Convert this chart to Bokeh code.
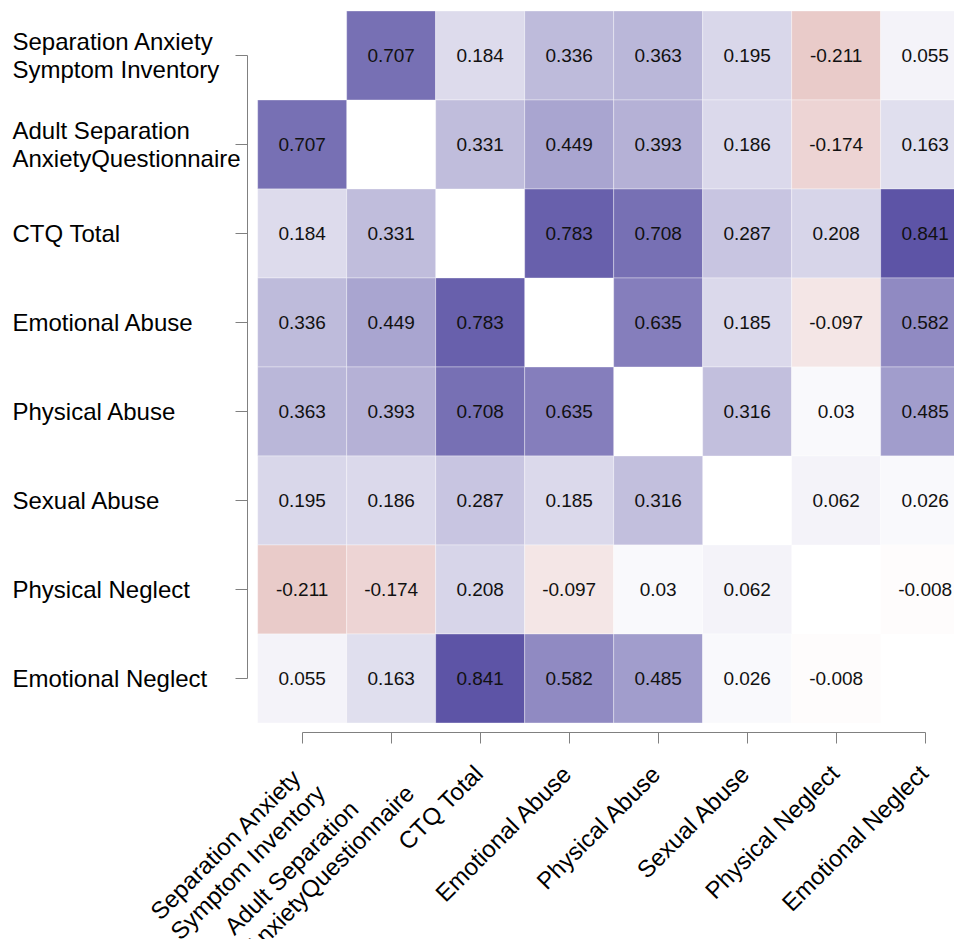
import math
from bokeh.plotting import figure
from bokeh.layouts import column, row
from bokeh.models import ColumnDataSource, Range1d, LinearColorMapper, FixedTicker, LinearAxis
from bokeh.core.properties import value
from bokeh.embed import file_html
from bokeh.resources import INLINE

# ---- data ----
variables = [
    "Separation Anxiety\nSymptom Inventory",
    "Adult Separation\nAnxietyQuestionnaire",
    "CTQ Total",
    "Emotional Abuse",
    "Physical Abuse",
    "Sexual Abuse",
    "Physical Neglect",
    "Emotional Neglect",
]
row_sasi = [None, 0.707, 0.184, 0.336, 0.363, 0.195, -0.211, 0.055]
row_asaq = [0.707, None, 0.331, 0.449, 0.393, 0.186, -0.174, 0.163]
row_ctq = [0.184, 0.331, None, 0.783, 0.708, 0.287, 0.208, 0.841]
row_ea = [0.336, 0.449, 0.783, None, 0.635, 0.185, -0.097, 0.582]
row_pa = [0.363, 0.393, 0.708, 0.635, None, 0.316, 0.03, 0.485]
row_sa = [0.195, 0.186, 0.287, 0.185, 0.316, None, 0.062, 0.026]
row_pn = [-0.211, -0.174, 0.208, -0.097, 0.03, 0.062, None, -0.008]
row_en = [0.055, 0.163, 0.841, 0.582, 0.485, 0.026, -0.008, None]
matrix = [row_sasi, row_asaq, row_ctq, row_ea, row_pa, row_sa, row_pn, row_en]

# ---- palette: red (negative) -> white -> purple (positive) ----
NEG = (150, 5, 0)
POS = (64, 54, 150)
N = 201
palette = []
for k in range(N):
    t = -1 + 2 * k / (N - 1)
    base = POS if t >= 0 else NEG
    a = abs(t)
    c = [round(255 * (1 - a) + base[j] * a) for j in range(3)]
    palette.append("#%02x%02x%02x" % tuple(c))
mapper = LinearColorMapper(palette=palette, low=-1, high=1)

n = len(variables)
xs, ys, vals, labels = [], [], [], []
for i, r in enumerate(matrix):
    for j, v in enumerate(r):
        if v is None:
            continue
        xs.append(j)
        ys.append(n - 1 - i)
        vals.append(v)
        labels.append(f"{v:g}")
src = ColumnDataSource(dict(x=xs, y=ys, v=vals, label=labels))

FONT = "Liberation Sans"
AXIS_GREY = "#808080"

# ---- layout geometry (pixels) ----
CELL = 89.0
LEFT_W = 248          # width of the y-label strip
TOP_PAD = 10
MAIN_H = 732          # height of the top row
BOTTOM_H = 207
MAIN_W = 954 - LEFT_W
X0 = -0.603           # data value at left edge of the heat-map frame
Y0 = -0.607           # data value at bottom edge of the heat-map frame
y_range_top = Range1d(Y0, Y0 + (MAIN_H - TOP_PAD) / CELL)


def bare(fig):
    fig.outline_line_color = None
    fig.grid.visible = False
    fig.background_fill_color = "white"
    fig.border_fill_color = "white"
    fig.min_border_left = fig.min_border_right = 0
    fig.min_border_bottom = 0
    return fig


def style_axis(ax, tick_len):
    ax.ticker = FixedTicker(ticks=list(range(n)))
    ax.bounds = (0, n - 1)
    ax.major_label_text_font_size = "0px"
    ax.major_label_text_color = None
    ax.major_label_standoff = 0
    ax.major_tick_in = tick_len
    ax.major_tick_out = 0
    ax.minor_tick_line_color = None
    ax.axis_line_color = AXIS_GREY
    ax.major_tick_line_color = AXIS_GREY


# main heat map
p = bare(figure(width=MAIN_W, height=MAIN_H, output_backend="svg", toolbar_location=None,
                x_axis_location=None, y_axis_location=None,
                x_range=Range1d(X0, X0 + MAIN_W / CELL), y_range=y_range_top))
p.min_border_top = TOP_PAD
p.rect(x="x", y="y", width=1, height=1, source=src,
       fill_color={"field": "v", "transform": mapper},
       line_color="white", line_alpha=0.35, line_width=1)
p.text(x="x", y="y", text="label", source=src, text_align="center", text_baseline="middle",
       text_font=value(FONT), text_font_size="19px", text_color="#111111")

# left strip: y labels + y axis (ticks pointing left)
pl = bare(figure(width=LEFT_W, height=MAIN_H, output_backend="svg", toolbar_location=None,
                 x_axis_location=None, y_axis_location=None,
                 x_range=Range1d(0, LEFT_W - 1), y_range=y_range_top))
pl.min_border_top = TOP_PAD
pl.min_border_right = 1
yax = LinearAxis()
style_axis(yax, 12)
pl.add_layout(yax, "right")
ylab = ColumnDataSource(dict(x=[12] * n, y=[n - 1 - i for i in range(n)], t=variables))
pl.text(x="x", y="y", text="t", source=ylab, text_align="left", text_baseline="middle",
        text_font=value(FONT), text_font_size="24px", text_color="black", text_line_height=1.05)

# bottom strip: x axis (ticks pointing down) + rotated x labels
xb0 = X0 - LEFT_W / CELL
pb = bare(figure(width=LEFT_W + MAIN_W, height=BOTTOM_H, output_backend="svg", toolbar_location=None,
                 x_axis_location=None, y_axis_location=None,
                 x_range=Range1d(xb0, xb0 + (LEFT_W + MAIN_W) / CELL),
                 y_range=Range1d(BOTTOM_H, 0)))
pb.min_border_top = 0
xax = LinearAxis()
style_axis(xax, 11)
pb.add_layout(xax, "above")
xlab = ColumnDataSource(dict(x=list(range(n)), y=[27] * n, t=variables))
pb.text(x="x", y="y", text="t", source=xlab, angle=math.pi / 4, x_offset=-11,
        anchor="top_right", text_align="left", text_baseline="top",
        text_font=value(FONT), text_font_size="24px", text_color="black", text_line_height=1.05)

layout = column(row(pl, p), pb, spacing=0)
open("out.html", "w").write(file_html(layout, INLINE))
